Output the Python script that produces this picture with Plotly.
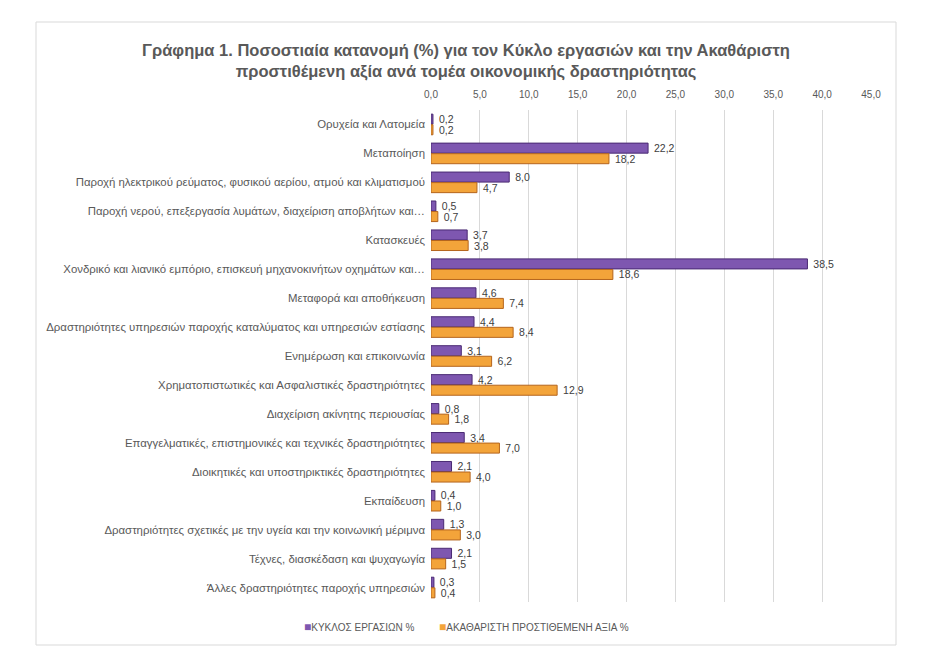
import plotly.graph_objects as go

categories = [
    "Ορυχεία και Λατομεία",
    "Μεταποίηση",
    "Παροχή ηλεκτρικού ρεύματος, φυσικού αερίου, ατμού και κλιματισμού",
    "Παροχή νερού, επεξεργασία λυμάτων, διαχείριση αποβλήτων και…",
    "Κατασκευές",
    "Χονδρικό και λιανικό εμπόριο, επισκευή μηχανοκινήτων οχημάτων και…",
    "Μεταφορά και αποθήκευση",
    "Δραστηριότητες υπηρεσιών παροχής καταλύματος και υπηρεσιών εστίασης",
    "Ενημέρωση και επικοινωνία",
    "Χρηματοπιστωτικές και Ασφαλιστικές δραστηριότητες",
    "Διαχείριση ακίνητης περιουσίας",
    "Επαγγελματικές, επιστημονικές και τεχνικές δραστηριότητες",
    "Διοικητικές και υποστηρικτικές δραστηριότητες",
    "Εκπαίδευση",
    "Δραστηριότητες σχετικές με την υγεία και την κοινωνική μέριμνα",
    "Τέχνες, διασκέδαση και ψυχαγωγία",
    "Άλλες δραστηριότητες παροχής υπηρεσιών",
]
turnover = [0.2, 22.2, 8.0, 0.5, 3.7, 38.5, 4.6, 4.4, 3.1, 4.2, 0.8, 3.4, 2.1, 0.4, 1.3, 2.1, 0.3]
gva = [0.2, 18.2, 4.7, 0.7, 3.8, 18.6, 7.4, 8.4, 6.2, 12.9, 1.8, 7.0, 4.0, 1.0, 3.0, 1.5, 0.4]
series_names = ["ΚΥΚΛΟΣ ΕΡΓΑΣΙΩΝ %", "ΑΚΑΘΑΡΙΣΤΗ ΠΡΟΣΤΙΘΕΜΕΝΗ ΑΞΙΑ %"]
series_colors = ["#7E57B0", "#F3A43A"]
tick_vals = [0, 5, 10, 15, 20, 25, 30, 35, 40, 45]
tick_text = ["0,0", "5,0", "10,0", "15,0", "20,0", "25,0", "30,0", "35,0", "40,0", "45,0"]

def fmt(v):
    return " " + f"{v:.1f}".replace(".", ",")

FONT = "Liberation Sans"
GREY = "#595959"

OFF = 8  # page body margin offset
L, R, T, B = 431 - OFF, 65 + OFF, 110 - OFF, 66 + OFF
PW, PH = 936 - L - R, 668 - T - B

def px_x(px):
    return (px - OFF - L) / PW

def px_y(py):
    return (T + PH - (py - OFF)) / PH

fig = go.Figure()
fig.add_trace(go.Bar(
    y=categories, x=turnover, orientation="h", name=series_names[0],
    marker=dict(color=series_colors[0], line=dict(color="#4A2A73", width=1)),
    text=[fmt(v) for v in turnover], textposition="outside", constraintext="none",
    textfont=dict(size=10.5, color="#404040", family=FONT), cliponaxis=False,
    showlegend=False,
))
fig.add_trace(go.Bar(
    y=categories, x=gva, orientation="h", name=series_names[1],
    marker=dict(color=series_colors[1], line=dict(color="#B5651D", width=1)),
    text=[fmt(v) for v in gva], textposition="outside", constraintext="none",
    textfont=dict(size=10.5, color="#404040", family=FONT), cliponaxis=False,
    showlegend=False,
))

annotations = [
    dict(xref="paper", yref="paper", x=px_x(302), y=px_y(627),
         xanchor="left", yanchor="middle", showarrow=False,
         text=f"<span style='color:{series_colors[0]};font-size:12px'>■</span>{series_names[0]}",
         font=dict(size=10, color=GREY, family=FONT)),
    dict(xref="paper", yref="paper", x=px_x(437), y=px_y(627),
         xanchor="left", yanchor="middle", showarrow=False,
         text=f"<span style='color:{series_colors[1]};font-size:12px'>■</span>{series_names[1]}",
         font=dict(size=10, color=GREY, family=FONT)),
]

fig.update_layout(
    width=936, height=668,
    paper_bgcolor="white", plot_bgcolor="white",
    margin=dict(l=L, r=R, t=T, b=B, autoexpand=False),
    barmode="group", bargap=0.27, bargroupgap=0.05,
    font=dict(family=FONT, color=GREY, size=10),
    showlegend=False,
    title=dict(
        text="<b>Γράφημα 1. Ποσοστιαία κατανομή (%) για τον Κύκλο εργασιών και την Ακαθάριστη<br>προστιθέμενη αξία ανά τομέα οικονομικής δραστηριότητας</b>",
        x=(466 - OFF) / 936, xanchor="center", y=(668 - (56 - OFF)) / 668, yanchor="middle",
        font=dict(size=16.5, color=GREY, family=FONT),
    ),
    xaxis=dict(
        side="top", range=[0, 45], tickvals=tick_vals, ticktext=tick_text,
        showgrid=True, gridcolor="#D9D9D9", gridwidth=1, zeroline=False,
        showline=False, tickfont=dict(size=10, color=GREY), ticks="",
        automargin=False, ticklabelstandoff=9,
    ),
    yaxis=dict(
        autorange="reversed", showgrid=False, showline=False, ticks="",
        tickfont=dict(size=11.4, color=GREY), ticklabelstandoff=5,
        automargin=False,
    ),
    annotations=annotations,
    shapes=[dict(
        type="rect", xref="paper", yref="paper",
        x0=px_x(36), x1=px_x(896),
        y0=px_y(645), y1=px_y(22),
        line=dict(color="#D9D9D9", width=1), fillcolor="rgba(0,0,0,0)",
    )],
)

fig.write_html("out.html")
